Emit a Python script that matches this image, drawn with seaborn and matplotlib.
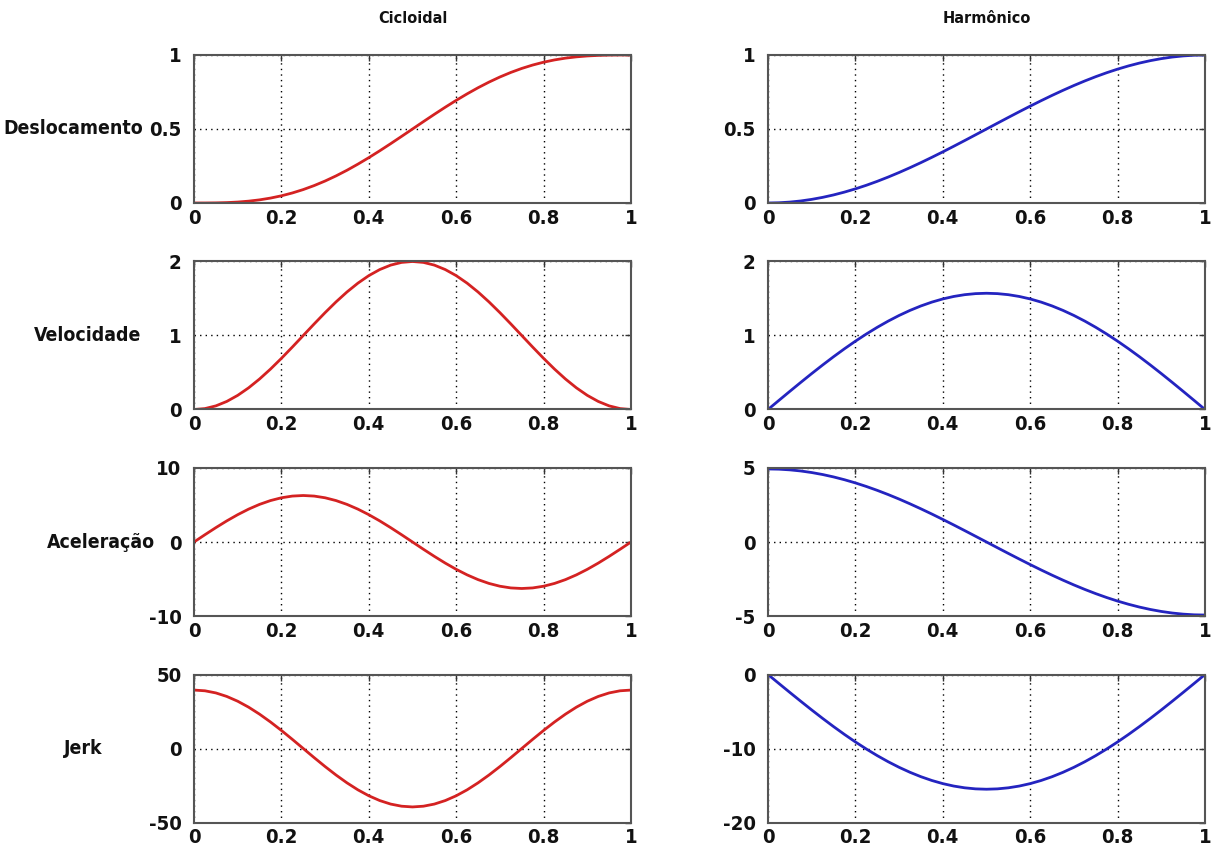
import matplotlib
matplotlib.use("Agg")
import matplotlib.pyplot as plt
import seaborn as sns
import pandas as pd
from matplotlib import font_manager

# ---------------- data ----------------
x = [0.000, 0.025, 0.050, 0.075, 0.100, 0.125, 0.150, 0.175, 0.200, 0.225,
     0.250, 0.275, 0.300, 0.325, 0.350, 0.375, 0.400, 0.425, 0.450, 0.475,
     0.500, 0.525, 0.550, 0.575, 0.600, 0.625, 0.650, 0.675, 0.700, 0.725,
     0.750, 0.775, 0.800, 0.825, 0.850, 0.875, 0.900, 0.925, 0.950, 0.975, 1.000]

cyc_desl = [0.0000, 0.0001, 0.0008, 0.0027, 0.0064, 0.0125, 0.0212, 0.0332, 0.0486, 0.0678,
            0.0908, 0.1178, 0.1486, 0.1832, 0.2212, 0.2625, 0.3064, 0.3527, 0.4008, 0.4501,
            0.5000, 0.5499, 0.5992, 0.6473, 0.6936, 0.7375, 0.7788, 0.8168, 0.8514, 0.8822,
            0.9092, 0.9322, 0.9514, 0.9668, 0.9788, 0.9875, 0.9936, 0.9973, 0.9992, 0.9999, 1.0000]
cyc_vel = [0.0000, 0.0123, 0.0489, 0.1090, 0.1910, 0.2929, 0.4122, 0.5460, 0.6910, 0.8436,
           1.0000, 1.1564, 1.3090, 1.4540, 1.5878, 1.7071, 1.8090, 1.8910, 1.9511, 1.9877,
           2.0000, 1.9877, 1.9511, 1.8910, 1.8090, 1.7071, 1.5878, 1.4540, 1.3090, 1.1564,
           1.0000, 0.8436, 0.6910, 0.5460, 0.4122, 0.2929, 0.1910, 0.1090, 0.0489, 0.0123, 0.0000]
cyc_acel = [0.000, 0.983, 1.941, 2.853, 3.693, 4.443, 5.083, 5.598, 5.976, 6.206,
            6.283, 6.206, 5.976, 5.598, 5.083, 4.443, 3.693, 2.853, 1.941, 0.983,
            0.000, -0.983, -1.941, -2.853, -3.693, -4.443, -5.083, -5.598, -5.976, -6.206,
            -6.283, -6.206, -5.976, -5.598, -5.083, -4.443, -3.693, -2.853, -1.941, -0.983, 0.000]
cyc_jerk = [39.48, 38.99, 37.55, 35.17, 31.94, 27.92, 23.20, 17.92, 12.20, 6.18,
            0.00, -6.18, -12.20, -17.92, -23.20, -27.92, -31.94, -35.17, -37.55, -38.99,
            -39.48, -38.99, -37.55, -35.17, -31.94, -27.92, -23.20, -17.92, -12.20, -6.18,
            0.00, 6.18, 12.20, 17.92, 23.20, 27.92, 31.94, 35.17, 37.55, 38.99, 39.48]

har_desl = [0.0000, 0.0016, 0.0062, 0.0138, 0.0245, 0.0381, 0.0545, 0.0737, 0.0955, 0.1198,
            0.1464, 0.1753, 0.2061, 0.2388, 0.2730, 0.3087, 0.3455, 0.3833, 0.4218, 0.4608,
            0.5000, 0.5392, 0.5782, 0.6167, 0.6545, 0.6913, 0.7270, 0.7612, 0.7939, 0.8247,
            0.8536, 0.8802, 0.9045, 0.9263, 0.9455, 0.9619, 0.9755, 0.9862, 0.9938, 0.9984, 1.0000]
har_vel = [0.0000, 0.1233, 0.2457, 0.3666, 0.4854, 0.6011, 0.7132, 0.8207, 0.9233, 1.0201,
           1.1107, 1.1944, 1.2708, 1.3393, 1.3996, 1.4513, 1.4940, 1.5275, 1.5515, 1.5659,
           1.5708, 1.5659, 1.5515, 1.5275, 1.4940, 1.4513, 1.3996, 1.3393, 1.2708, 1.1944,
           1.1107, 1.0201, 0.9233, 0.8207, 0.7132, 0.6011, 0.4854, 0.3666, 0.2457, 0.1233, 0.0000]
har_acel = [4.935, 4.920, 4.874, 4.799, 4.693, 4.559, 4.397, 4.207, 3.992, 3.752,
            3.489, 3.205, 2.901, 2.578, 2.240, 1.889, 1.525, 1.152, 0.772, 0.387,
            0.000, -0.387, -0.772, -1.152, -1.525, -1.889, -2.240, -2.578, -2.901, -3.205,
            -3.489, -3.752, -3.992, -4.207, -4.397, -4.559, -4.693, -4.799, -4.874, -4.920, -4.935]
har_jerk = [0.000, -1.217, -2.425, -3.618, -4.791, -5.933, -7.038, -8.100, -9.113, -10.068,
            -10.962, -11.788, -12.542, -13.218, -13.813, -14.323, -14.745, -15.075, -15.312, -15.455,
            -15.503, -15.455, -15.312, -15.075, -14.745, -14.323, -13.813, -13.218, -12.542, -11.788,
            -10.962, -10.068, -9.113, -8.100, -7.038, -5.933, -4.791, -3.618, -2.425, -1.217, 0.000]

col_titles = ["Cicloidal", "Harmônico"]
row_labels = ["Deslocamento", "Velocidade", "Aceleração", "Jerk"]
x_ticks = [0, 0.2, 0.4, 0.6, 0.8, 1]
x_ticklabels = ["0", "0.2", "0.4", "0.6", "0.8", "1"]
y_ticks = [
    [[0, 0.5, 1], [0, 0.5, 1]],
    [[0, 1, 2], [0, 1, 2]],
    [[-10, 0, 10], [-5, 0, 5]],
    [[-50, 0, 50], [-20, -10, 0]],
]
series = [
    [cyc_desl, har_desl],
    [cyc_vel, har_vel],
    [cyc_acel, har_acel],
    [cyc_jerk, har_jerk],
]
colors = ["#d42222", "#2424c0"]

# ---------------- style ----------------
sns.set_style("white")
fonts = font_manager.fontManager.ttflist


def is_bold(f):
    w = f.weight
    if isinstance(w, str):
        return w in ("bold", "heavy", "extra bold", "black", "semibold", "demibold")
    return w >= 600


stretch = "normal"
names_bold_narrow = [f.name for f in fonts
                     if ("Narrow" in f.name or "Condensed" in f.name) and is_bold(f)]
if "Liberation Sans Narrow" in names_bold_narrow:
    fam = ["Liberation Sans Narrow", "DejaVu Sans"]
    scale = 1.0
elif any(f.name == "DejaVu Sans" and f.stretch in ("condensed", 300) and is_bold(f) for f in fonts):
    fam = ["DejaVu Sans"]
    stretch = "condensed"
    scale = 0.86
elif names_bold_narrow:
    fam = [names_bold_narrow[0], "DejaVu Sans"]
    scale = 0.9
else:
    fam = ["Liberation Sans", "DejaVu Sans"]
    scale = 0.82
plt.rcParams["font.family"] = fam
plt.rcParams["font.weight"] = "bold"
plt.rcParams["font.stretch"] = stretch

W, H = 1217, 848
fig = plt.figure(figsize=(W / 100, H / 100), dpi=100)

col_left = [194, 768]
ax_w = 437
row_top = [55, 261.5, 468, 674.5]
ax_h = 148
ylab_right = [143, 141, 155, 103]

tick_fs = 17 * scale
lab_fs = 16.2 * scale
title_fs = 13.5 * scale


def fmt(v):
    return "%g" % v


for r in range(4):
    for c in range(2):
        l = col_left[c] / W
        b = 1 - (row_top[r] + ax_h) / H
        ax = fig.add_axes([l, b, ax_w / W, ax_h / H])
        df = pd.DataFrame({"x": x, "y": series[r][c]})
        sns.lineplot(data=df, x="x", y="y", ax=ax, color=colors[c], linewidth=2.0)
        yt = y_ticks[r][c]
        ax.set_xlim(0, 1)
        ax.set_ylim(yt[0], yt[-1])
        ax.set_xticks(x_ticks)
        ax.set_xticklabels(x_ticklabels)
        ax.set_yticks(yt)
        ax.set_yticklabels([fmt(v) for v in yt])
        ax.set_xlabel("")
        ax.set_ylabel("")
        ax.grid(True, linestyle=(0, (1, 3)), color="black", linewidth=1.0)
        ax.tick_params(axis="both", direction="in", length=4, width=1,
                       top=True, right=True, labelsize=tick_fs, colors="#333333",
                       labelcolor="#111111")
        ax.tick_params(axis="x", pad=4)
        ax.tick_params(axis="y", pad=9)
        for lab in ax.get_xticklabels() + ax.get_yticklabels():
            lab.set_fontweight("bold")
            lab.set_fontstretch(stretch)
        for sp in ax.spines.values():
            sp.set_visible(True)
            sp.set_color("#555555")
            sp.set_linewidth(1.5)
        if r == 0:
            ax.set_title(col_titles[c], fontsize=title_fs, fontweight="bold", pad=23,
                         color="#111111", fontstretch=stretch)
    fig.text(ylab_right[r] / W, 1 - (row_top[r] + ax_h / 2) / H, row_labels[r],
             ha="right", va="center", fontsize=lab_fs, fontweight="bold", color="#111111",
             fontstretch=stretch)

fig.savefig("out.png", dpi=100, facecolor="white")
